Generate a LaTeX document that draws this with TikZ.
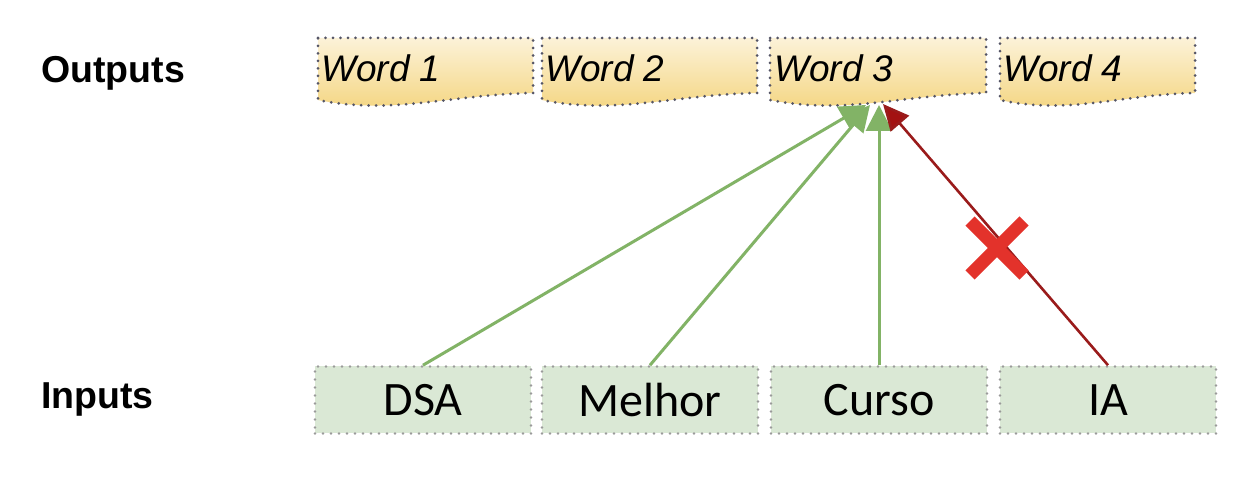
\documentclass[tikz,border=0pt]{standalone}
\usepackage{fontspec}
\setmainfont{Liberation Sans}
\newfontfamily\carl{Carlito}
\usetikzlibrary{arrows.meta,calc}
\definecolor{gline}{HTML}{82B366}
\definecolor{rline}{HTML}{9A1B1B}
\definecolor{rhead}{HTML}{A31212}
\definecolor{xred}{HTML}{E3322B}
\definecolor{infill}{HTML}{DAE8D5}
\definecolor{inborder}{HTML}{9A9A9A}
\definecolor{outtop}{HTML}{FCF2D8}
\definecolor{outbot}{HTML}{F4D47C}
\definecolor{outborder}{HTML}{555566}
\tikzset{
  outbox/.style={top color=outtop, bottom color=outbot, draw=outborder, line width=3pt, line cap=round, dash pattern=on 0pt off 7.5pt},
  wordtxt/.style={anchor=west, inner sep=0pt, font=\fontsize{37}{40}\selectfont\itshape},
  inbox/.style={fill=infill, draw=inborder, line width=2.6pt, line cap=round, dash pattern=on 0pt off 8pt, minimum width=216pt, minimum height=67pt, inner sep=0pt, font=\carl\fontsize{48}{52}\selectfont},
  lbl/.style={anchor=west, inner sep=0pt, font=\fontsize{37.5}{40}\selectfont\bfseries},
  garrow/.style={draw=gline, line width=3pt, -{Triangle[length=26pt,width=26pt,fill=gline]}},
  rarrow/.style={draw=rline, line width=2.6pt, -{Triangle[length=26pt,width=24pt,fill=rhead]}},
  xmark/.style={draw=xred, line width=13pt}
}
\begin{document}
\begin{tikzpicture}[x=1pt,y=-1pt]
\useasboundingbox (0,0) rectangle (1254,478);
\fill[white] (0,0) rectangle (1254,478);

% output document shapes
\foreach \xa/\xb in {318/533, 542/757, 770/986, 1000/1195}{
  \pgfmathsetmacro{\w}{\xb-\xa}
  \path[outbox] (\xa,38) -- (\xb,38) -- (\xb,93)
    .. controls ({\xa+0.6*\w},95) and ({\xa+0.35*\w},115) .. (\xa,100) -- cycle;
}
\node[wordtxt] (w1) at (321,68) {Word 1};
\node[wordtxt] (w2) at (545,68) {Word 2};
\node[wordtxt] (w3) at (774,68) {Word 3};
\node[wordtxt] (w4) at (1003,68) {Word 4};

% labels
\node[lbl] (lo) at (41,73) {Outputs};
\node[lbl] (li) at (41,399) {Inputs};

% inputs
\node[inbox] (i1) at (423,400) {DSA};
\node[inbox] (i2) at (650,400) {Melhor};
\node[inbox] (i3) at (879,400) {Curso};
\node[inbox] (i4) at (1108,400) {IA};

% arrow targets
\coordinate (t1) at (866,105);
\coordinate (t2) at (870,105);
\coordinate (t3) at (879,105);
\coordinate (t4) at (883,104);

\draw[garrow] (i1.north) -- (t1);
\draw[garrow] (i2.north) -- (t2);
\draw[garrow] (i3.north) -- (t3);
\draw[rarrow] (i4.north) -- (t4);

% red X
\coordinate (xc) at (997,248);
\draw[xmark] ($(xc)+(-27,-27)$) -- ($(xc)+(27,27)$);
\draw[xmark] ($(xc)+(-27,27)$) -- ($(xc)+(27,-27)$);
\end{tikzpicture}
\end{document}
